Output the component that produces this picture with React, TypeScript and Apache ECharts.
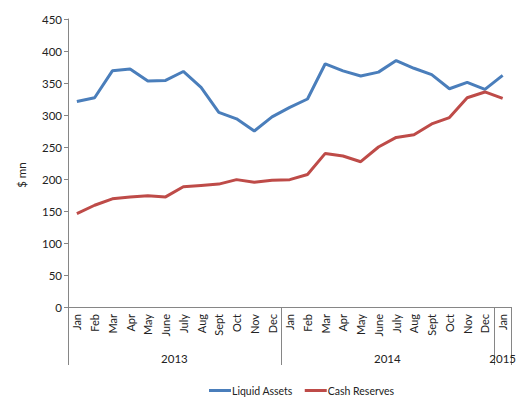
import React, { useEffect, useRef } from "react";
import * as echarts from "echarts";

const months = [
  "Jan", "Feb", "Mar", "Apr", "May", "June", "July", "Aug", "Sept", "Oct", "Nov", "Dec",
  "Jan", "Feb", "Mar", "Apr", "May", "June", "July", "Aug", "Sept", "Oct", "Nov", "Dec",
  "Jan",
];
const years = ["2013", "2014", "2015"];
const yearSpans = [12, 12, 1];
const liquidAssets = [
  321, 327, 369, 372, 353, 354, 368, 343, 304, 294, 275, 297,
  312, 325, 380, 369, 361, 367, 385, 373, 363, 341, 351, 340,
  362,
];
const cashReserves = [
  146, 159, 169, 172, 174, 172, 188, 190, 192, 199, 195, 198,
  199, 207, 240, 236, 227, 250, 265, 269, 286, 296, 327, 336,
  326,
];
const yTicks = { min: 0, max: 450, interval: 50 };

const FONT = "Lato";
const TEXT = "#222222";
const AXIS = "#868686";

export default function App() {
  const ref = useRef<HTMLDivElement>(null);
  useEffect(() => {
    if (!ref.current) return;
    const chart = echarts.init(ref.current, undefined, { renderer: "svg" });
    const boundaries: number[] = [0];
    const centers: number[] = [];
    let acc = 0;
    yearSpans.forEach((s) => {
      centers.push(acc + s / 2);
      acc += s;
      boundaries.push(acc);
    });
    chart.setOption({
      animation: false,
      textStyle: { fontFamily: FONT },
      grid: { left: 68, right: 6, top: 19, bottom: 94, containLabel: false },
      legend: {
        bottom: 0,
        left: 204,
        itemWidth: 22,
        itemHeight: 3,
        itemGap: 12,
        icon: "rect",
        textStyle: { fontFamily: FONT, fontSize: 10.5, color: TEXT, padding: [0, 0, 0, -4] },
        data: ["Liquid Assets", "Cash Reserves"],
      },
      xAxis: [
        {
          type: "category",
          data: months,
          boundaryGap: true,
          axisLine: { show: true, lineStyle: { color: AXIS, width: 1 } },
          axisTick: { show: false },
          axisLabel: {
            rotate: 90,
            interval: 0,
            margin: 7,
            fontFamily: FONT,
            fontSize: 11,
            color: TEXT,
          },
          splitLine: { show: false },
        },
        {
          type: "value",
          position: "bottom",
          min: 0,
          max: months.length,
          axisLine: { show: false },
          axisTick: {
            show: true,
            customValues: boundaries,
            length: 58,
            lineStyle: { color: AXIS, width: 1 },
          },
          axisLabel: {
            show: true,
            customValues: centers,
            margin: 45,
            fontFamily: FONT,
            fontSize: 11.5,
            color: TEXT,
            formatter: (v: number) => {
              const i = centers.findIndex((c) => Math.abs(c - v) < 1e-6);
              return i >= 0 ? years[i] : "";
            },
          },
          splitLine: { show: false },
        },
      ],
      yAxis: {
        type: "value",
        min: yTicks.min,
        max: yTicks.max,
        interval: yTicks.interval,
        axisLine: { show: true, lineStyle: { color: AXIS, width: 1 } },
        axisTick: { show: true, length: 4, lineStyle: { color: AXIS } },
        axisLabel: { fontFamily: FONT, fontSize: 11.5, color: TEXT, margin: 6 },
        splitLine: { show: false },
      },
      graphic: [
        {
          type: "text",
          x: 15,
          y: 175,
          rotation: Math.PI / 2,
          style: {
            text: "$ mn",
            fontFamily: FONT,
            fontSize: 11.5,
            fill: TEXT,
            align: "center",
            verticalAlign: "top",
          },
        },
      ],
      series: [
        {
          name: "Liquid Assets",
          type: "line",
          data: liquidAssets,
          symbol: "none",
          lineStyle: { width: 3, color: "#4A7EBB" },
          itemStyle: { color: "#4A7EBB" },
        },
        {
          name: "Cash Reserves",
          type: "line",
          data: cashReserves,
          symbol: "none",
          lineStyle: { width: 3, color: "#BE4B48" },
          itemStyle: { color: "#BE4B48" },
        },
      ],
    });
    return () => chart.dispose();
  }, []);
  return (
    <div
      ref={ref}
      style={{ position: "fixed", left: 0, top: 0, width: 519, height: 401, background: "#fff" }}
    />
  );
}
